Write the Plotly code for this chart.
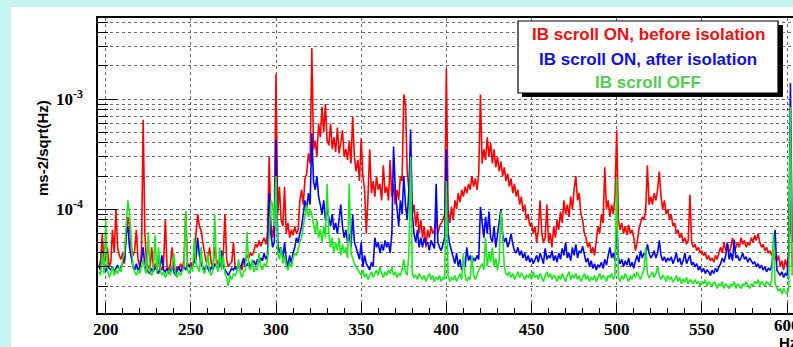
import plotly.graph_objects as go

# Frequency grid, 1 Hz bins
freq_hz = list(range(196, 604))

# Acceleration spectral density, in units of 1e-6 m s^-2 / sqrt(Hz)
asd_on_before = [
    30, 34, 60, 32, 36, 45, 30, 33, 65, 40,
    100, 45, 38, 35, 40, 32, 55, 85, 70, 45,
    38, 42, 65, 35, 30, 40, 650, 60, 32, 30,
    28, 45, 30, 32, 28, 35, 30, 28, 33, 80,
    30, 28, 32, 45, 30, 27, 30, 28, 32, 29,
    35, 95, 32, 30, 33, 30, 35, 60, 90, 70,
    64, 50, 40, 33, 35, 45, 32, 30, 45, 35,
    32, 30, 34, 38, 90, 35, 30, 32, 33, 50,
    30, 28, 32, 30, 28, 35, 33, 38, 36, 40,
    38, 42, 48, 45, 52, 46, 50, 55, 48, 60,
    300, 70, 55, 80, 1700, 90, 160, 80, 70, 160,
    60, 75, 55, 65, 58, 70, 60, 65, 120, 150,
    110, 190, 210, 320, 260, 2900, 350, 420, 300, 600,
    450, 850, 500, 900, 420, 380, 600, 350, 450, 330,
    550, 320, 400, 520, 300, 350, 280, 420, 260, 690,
    300, 220, 280, 180, 440, 200, 150, 60, 130, 350,
    140, 180, 130, 200, 150, 170, 120, 250, 140, 160,
    120, 280, 130, 170, 110, 150, 120, 200, 180, 1100,
    900, 220, 150, 120, 90, 110, 70, 95, 60, 80,
    55, 70, 45, 65, 55, 70, 60, 65, 85, 60,
    70, 75, 80, 90, 1900, 100, 75, 105, 80, 120,
    100, 140, 115, 150, 130, 160, 140, 170, 150, 200,
    160, 190, 150, 210, 1100, 260, 350, 280, 450, 300,
    400, 260, 350, 240, 300, 220, 270, 200, 240, 180,
    210, 160, 190, 140, 170, 130, 150, 110, 130, 95,
    110, 80, 90, 70, 75, 60, 70, 50, 65, 120,
    60, 50, 55, 110, 50, 60, 45, 70, 55, 80,
    65, 95, 75, 120, 90, 110, 85, 130, 100, 150,
    200, 120, 140, 90, 80, 60, 55, 45, 50, 40,
    45, 38, 55, 70, 60, 90, 75, 240, 100, 120,
    85, 110, 90, 130, 520, 80, 65, 75, 60, 70,
    58, 72, 60, 65, 55, 42, 50, 65, 75, 85,
    80, 95, 250, 110, 130, 110, 140, 120, 150, 220,
    130, 100, 120, 90, 100, 80, 90, 70, 75, 60,
    65, 55, 60, 50, 55, 48, 52, 135, 50, 45,
    48, 42, 45, 40, 42, 38, 40, 35, 38, 34,
    36, 33, 38, 35, 40, 45, 40, 50, 42, 48,
    40, 45, 55, 42, 45, 50, 45, 55, 48, 52,
    45, 50, 47, 55, 50, 58, 52, 60, 50, 45,
    48, 42, 45, 40, 42, 38, 40, 36, 34, 38,
    30, 34, 28, 35, 30, 40, 120, 30,
]

asd_on_after = [
    30, 28, 42, 30, 27, 31, 29, 28, 30, 27,
    29, 31, 28, 30, 33, 35, 60, 70, 45, 35,
    30, 28, 32, 27, 30, 35, 45, 30, 28, 27,
    26, 29, 27, 30, 28, 26, 30, 38, 28, 27,
    29, 26, 28, 30, 27, 25, 28, 30, 27, 29,
    30, 28, 32, 30, 29, 31, 33, 35, 55, 38,
    32, 30, 28, 31, 29, 27, 30, 28, 32, 30,
    29, 31, 42, 30, 28, 27, 25, 27, 29, 28,
    30, 28, 31, 29, 32, 36, 30, 31, 33, 30,
    32, 34, 31, 35, 33, 36, 34, 40, 35, 38,
    140, 60, 45, 50, 430, 50, 40, 45, 35, 50,
    35, 30, 38, 32, 40, 45, 55, 50, 60, 70,
    90, 120, 100, 140, 110, 490, 180, 150, 200, 130,
    110, 90, 120, 80, 100, 85, 70, 90, 65, 75,
    60, 80, 110, 70, 55, 65, 50, 60, 45, 90,
    50, 45, 40, 35, 50, 30, 38, 32, 30, 28,
    33, 30, 55, 45, 50, 40, 48, 42, 52, 45,
    50, 40, 60, 370, 150, 100, 70, 120, 90, 200,
    110, 80, 150, 530, 90, 60, 50, 65, 45, 55,
    45, 55, 48, 50, 42, 52, 48, 44, 170, 50,
    45, 42, 48, 55, 350, 60, 48, 42, 38, 32,
    40, 30, 35, 28, 33, 30, 45, 34, 38, 32,
    36, 34, 38, 35, 105, 70, 55, 85, 60, 95,
    55, 50, 70, 45, 60, 75, 100, 60, 50, 55,
    45, 50, 60, 48, 42, 40, 45, 38, 42, 36,
    40, 34, 38, 33, 36, 32, 35, 38, 33, 40,
    36, 32, 44, 35, 38, 36, 42, 34, 38, 33,
    40, 35, 44, 38, 50, 36, 40, 34, 45, 38,
    48, 36, 42, 40, 46, 38, 33, 36, 30, 34,
    29, 32, 28, 31, 30, 33, 29, 35, 31, 38,
    45, 36, 40, 34, 70, 36, 32, 35, 30, 34,
    31, 36, 30, 33, 29, 34, 38, 33, 42, 36,
    40, 38, 48, 40, 36, 38, 42, 36, 40, 52,
    38, 34, 37, 33, 36, 34, 37, 32, 35, 40,
    33, 36, 31, 34, 40, 32, 35, 38, 31, 33,
    30, 32, 28, 30, 27, 29, 26, 28, 27, 25,
    28, 26, 29, 27, 30, 32, 36, 33, 38, 50,
    35, 40, 34, 53, 36, 38, 34, 36, 40, 35,
    37, 33, 36, 34, 32, 33, 30, 32, 29, 31,
    28, 30, 27, 29, 28, 30, 45, 65, 28, 26,
    25, 27, 24, 26, 25, 40, 1400, 50,
]

asd_off = [
    27, 25, 40, 26, 80, 28, 24, 26, 30, 25,
    28, 26, 30, 27, 35, 40, 70, 120, 90, 55,
    30, 27, 25, 28, 26, 30, 35, 28, 26, 62,
    27, 25, 28, 58, 26, 45, 28, 25, 27, 24,
    26, 28, 25, 30, 40, 26, 24, 27, 25, 28,
    30, 96, 28, 26, 30, 27, 55, 32, 29, 27,
    45, 28, 26, 30, 40, 27, 25, 28, 90, 30,
    27, 45, 28, 38, 26, 24, 20, 25, 23, 26,
    25, 27, 35, 26, 24, 27, 28, 62, 30, 28,
    35, 27, 29, 28, 40, 30, 28, 32, 30, 34,
    60, 120, 110, 70, 200, 40, 35, 45, 32, 38,
    30, 28, 33, 30, 36, 40, 38, 45, 50, 55,
    70, 90, 110, 85, 100, 90, 75, 60, 80, 55,
    65, 50, 70, 55, 170, 60, 45, 55, 40, 50,
    42, 55, 38, 48, 40, 45, 36, 170, 40, 35,
    32, 30, 28, 27, 25, 28, 24, 26, 23, 25,
    27, 24, 26, 28, 25, 30, 26, 24, 27, 25,
    28, 26, 30, 25, 27, 24, 26, 25, 28, 35,
    27, 25, 40, 300, 26, 24, 25, 23, 26, 24,
    23, 25, 22, 24, 26, 23, 25, 22, 24, 23,
    25, 22, 24, 23, 180, 25, 22, 24, 23, 25,
    22, 24, 26, 23, 40, 25, 22, 24, 23, 38,
    25, 23, 26, 28, 30, 32, 28, 55, 30, 40,
    33, 45, 30, 36, 28, 35, 95, 60, 30, 26,
    25, 27, 24, 26, 23, 25, 27, 24, 26, 25,
    23, 25, 24, 26, 23, 27, 24, 25, 23, 26,
    24, 22, 25, 27, 24, 26, 23, 25, 24, 22,
    25, 23, 26, 24, 22, 25, 27, 23, 25, 24,
    26, 23, 25, 22, 24, 26, 23, 25, 22, 24,
    23, 25, 22, 24, 26, 23, 25, 24, 22, 25,
    24, 26, 23, 25, 190, 24, 22, 25, 23, 26,
    24, 22, 25, 23, 26, 24, 27, 25, 23, 26,
    28, 45, 26, 24, 25, 27, 24, 26, 30, 25,
    23, 25, 24, 22, 25, 23, 24, 22, 23, 25,
    22, 24, 21, 23, 22, 24, 21, 23, 22, 21,
    23, 21, 22, 20, 22, 21, 23, 20, 22, 21,
    20, 22, 21, 19, 21, 20, 22, 19, 21, 20,
    19, 21, 20, 22, 19, 21, 20, 19, 21, 20,
    22, 20, 19, 21, 20, 22, 21, 23, 20, 22,
    21, 20, 22, 21, 20, 23, 60, 21, 19, 18,
    19, 17, 19, 18, 17, 19, 850, 25,
]

series_names = ["IB scroll ON, before isolation",
                "IB scroll ON, after isolation",
                "IB scroll OFF"]
series_colors = ["#ff0000", "#0000ff", "#1ee81e"]
legend_text_colors = ["#ee1111", "#1111dd", "#55cc55"]

x_ticks = [200, 250, 300, 350, 400, 450, 500, 550]
x_edge_tick = 600
y_major = [1e-4, 1e-3]
y_major_text = ["10<sup>-4</sup>", "10<sup>-3</sup>"]
y_minor = [m * 10.0 ** e for e in (-5, -4, -3) for m in range(2, 10)]

UNIT = 1e-6

fig = go.Figure()
for name, ys, col in zip(series_names, [asd_on_before, asd_on_after, asd_off], series_colors):
    fig.add_trace(go.Scatter(
        x=freq_hz, y=[v * UNIT for v in ys], mode="lines", name=name,
        line=dict(color=col, width=1.6), showlegend=False,
    ))

# plot area geometry in pixels (figure 793 x 347)
W, H = 793, 347
L, R, T, B = 98, 0, 18, 34
pw, ph = W - L - R, H - T - B


def px(x):
    return (x - L) / pw


def py(y):
    return (H - B - y) / ph


axis_font = dict(family="Liberation Serif", size=17, color="black", weight="bold")
grid = dict(gridcolor="#6a6a6a", griddash="dot", gridwidth=1)

fig.update_xaxes(
    range=[195.48, 603.5], tickvals=x_ticks + [x_edge_tick],
    ticktext=[str(t) for t in x_ticks] + [""],
    ticks="inside", ticklen=10,
    tickwidth=1.2, tickcolor="black", showline=True, linecolor="black",
    linewidth=1.5, mirror=True, showgrid=True, zeroline=False,
    tickfont=axis_font, **grid,
    minor=dict(dtick=10, tick0=200, ticks="inside", ticklen=5, tickwidth=1,
               tickcolor="black", showgrid=False),
)
fig.update_yaxes(
    type="log", range=[-4.943, -2.264], tickvals=y_major, ticktext=y_major_text,
    ticks="inside", ticklen=19, tickwidth=1.2, tickcolor="black",
    showline=True, linecolor="black", linewidth=1.5, showgrid=True,
    zeroline=False, tickfont=axis_font, ticklabelstandoff=10, **grid,
    minor=dict(tickvals=y_minor, ticks="inside", ticklen=10, tickwidth=1,
               tickcolor="black", showgrid=True, gridcolor="#6a6a6a",
               griddash="dot", gridwidth=1),
)

shapes = [
    # white page panel behind the chart
    dict(type="rect", xref="paper", yref="paper", layer="below",
         x0=px(11), x1=px(820), y0=py(7), y1=py(360),
         fillcolor="white", line=dict(width=0)),
    # legend drop shadow and box
    dict(type="rect", xref="paper", yref="paper", layer="above",
         x0=px(522), x1=px(783), y0=py(97), y1=py(25),
         fillcolor="black", line=dict(width=0)),
    dict(type="rect", xref="paper", yref="paper", layer="above",
         x0=px(518), x1=px(778), y0=py(93), y1=py(21),
         fillcolor="white", line=dict(color="black", width=1.2)),
]

annotations = []
for name, col, ypix in zip(series_names, legend_text_colors, [35, 60, 82]):
    annotations.append(dict(
        x=px(648), y=py(ypix), xref="paper", yref="paper", text=name,
        showarrow=False, xanchor="center", yanchor="middle",
        font=dict(family="Liberation Sans", size=17, color=col, weight="bold"),
    ))
annotations.append(dict(
    x=px(42), y=py(148), xref="paper", yref="paper", text="ms-2/sqrt(Hz)",
    textangle=-90, showarrow=False, xanchor="center", yanchor="middle",
    font=dict(family="Liberation Sans", size=15, color="black", weight="bold"),
))
# last x tick label runs off the right edge of the page
annotations.append(dict(
    x=x_edge_tick, y=py(325), xref="x", yref="paper", text=str(x_edge_tick),
    showarrow=False, xanchor="center", yanchor="middle", font=axis_font,
))
annotations.append(dict(
    x=px(777), y=py(342), xref="paper", yref="paper", text="Hz",
    showarrow=False, xanchor="left", yanchor="middle",
    font=dict(family="Liberation Sans", size=15, color="black", weight="bold"),
))

fig.update_layout(
    width=W, height=H, margin=dict(l=L, r=R, t=T, b=B, pad=0),
    paper_bgcolor="#c6f5f1", plot_bgcolor="white",
    shapes=shapes, annotations=annotations, showlegend=False,
)

fig.write_html("out.html")
